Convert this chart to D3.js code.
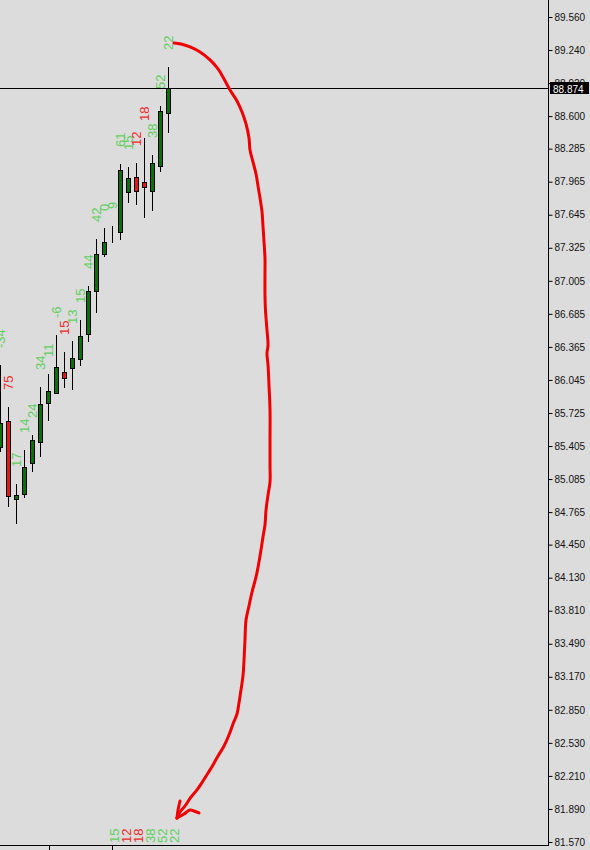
<!DOCTYPE html>
<html><head><meta charset="utf-8">
<script src="https://cdn.jsdelivr.net/npm/d3@7/dist/d3.min.js"></script>
<style>html,body{margin:0;padding:0;background:#dcdcdc;}svg{display:block}</style>
</head><body><svg id="c" width="590" height="850"></svg>
<script>
// ---- data ----
const opens  = [85.396,85.647,84.892,84.940,85.241,85.444,85.822,85.919,86.122,86.161,86.248,86.490,86.907,87.265,87.488,87.478,87.865,88.011,87.962,87.875,88.117,88.631];
const highs  = [86.190,85.783,85.037,85.367,85.512,85.977,86.103,86.480,86.316,86.422,86.626,86.955,87.410,87.517,87.536,88.137,88.108,88.146,88.388,88.224,88.698,89.076];
const lows   = [85.347,84.815,84.650,84.902,85.154,85.299,85.647,85.909,85.967,85.948,86.180,86.413,86.693,87.236,87.371,87.401,87.759,87.739,87.614,87.681,88.059,88.437];
const closes = [85.628,84.921,84.931,85.202,85.463,85.812,85.938,86.170,86.064,86.258,86.471,86.907,87.265,87.381,87.490,88.078,88.001,87.875,87.914,88.146,88.650,88.874];
const barLabels = ["-34","75","17","14","24","34","11","-6","15","13","15","44","42","0","9","61","15","12","18","38","52","22"];
const tickValues = [89.560,89.240,88.920,88.600,88.285,87.965,87.645,87.325,87.005,86.685,86.365,86.045,85.725,85.405,85.085,84.765,84.450,84.130,83.810,83.490,83.170,82.850,82.530,82.210,81.890,81.570];
const currentPrice = 88.874;
// hand-drawn arrow in (bar index, price) units
const arrowPath = [[21.69,89.308],[22.56,89.299],[23.69,89.270],[24.94,89.221],[26.19,89.144],[27.19,89.057],[27.94,88.960],[28.69,88.853],[29.56,88.747],[30.19,88.640],[30.69,88.524],[31.06,88.388],[31.19,88.272],[31.56,88.156],[31.94,88.040],[32.19,87.924],[32.44,87.807],[32.69,87.672],[32.81,87.536],[32.94,87.381],[33.06,87.226],[33.06,87.062],[33.06,86.868],[33.12,86.723],[33.31,86.529],[33.44,86.384],[33.31,86.300],[33.44,86.190],[33.56,85.996],[33.69,85.754],[33.69,85.463],[33.69,85.221],[33.69,85.057],[33.44,84.931],[33.19,84.785],[33.06,84.640],[32.81,84.524],[32.56,84.398],[32.31,84.282],[31.94,84.137],[31.44,83.991],[31.06,83.856],[30.69,83.720],[30.56,83.526],[30.44,83.333],[30.31,83.178],[30.06,83.042],[29.81,82.916],[29.56,82.810],[29.06,82.713],[28.56,82.606],[27.94,82.500],[27.19,82.403],[26.56,82.316],[25.94,82.238],[25.31,82.161],[24.56,82.074],[23.81,82.006],[23.06,81.919],[22.44,81.861],[22.06,81.802]];
const arrowHeadLeft = [[22.44,81.967],[22.19,81.880],[22.06,81.802]];
const arrowHeadRight = [[22.06,81.802],[22.94,81.841],[23.69,81.880],[24.19,81.870],[24.81,81.851]];

// ---- chart ----
const W = 590, H = 850, axisX = 548;
const GREEN_TXT = "#5fcf5f", RED_TXT = "#ee2a2a";
const svg = d3.select("#c");
svg.append("rect").attr("width", W).attr("height", H).attr("fill", "#dcdcdc");

const x = d3.scaleLinear().domain([0, 1]).range([0.5, 8.5]);
const y = d3.scaleLinear().domain([81.57, 89.56]).range([842, 17]);

const plot = svg.append("g");
const bars = opens.map((o, i) => ({i, o, h: highs[i], l: lows[i], c: closes[i], lab: barLabels[i], up: closes[i] >= o}));

// wicks
plot.selectAll("line.wick").data(bars).join("line")
  .attr("x1", d => x(d.i)).attr("x2", d => x(d.i))
  .attr("y1", d => Math.round(y(d.h))).attr("y2", d => Math.round(y(d.l)))
  .attr("stroke", "#000").attr("stroke-width", 1);

// bodies
plot.selectAll("rect.body").data(bars).join("rect")
  .attr("x", d => x(d.i) - 2)
  .attr("y", d => Math.round(Math.min(y(d.o), y(d.c))) + 0.5)
  .attr("width", 4)
  .attr("height", d => Math.max(0, Math.round(Math.abs(y(d.o) - y(d.c)))))
  .attr("fill", d => d.up ? "#0a700a" : "#e01a1a")
  .attr("stroke", "#000").attr("stroke-width", 1);

// labels above bars
plot.selectAll("text.lab").data(bars).join("text")
  .attr("transform", d => `translate(${x(d.i) + 4},${Math.round(y(d.h)) - 17}) rotate(-90)`)
  .attr("text-anchor", "start")
  .attr("font-family", "'Liberation Sans', Arial, sans-serif")
  .attr("font-size", 13)
  .attr("fill", d => d.up ? GREEN_TXT : RED_TXT)
  .text(d => d.lab);

// bottom label strip (last six)
const lastSix = bars.slice(-6);
svg.selectAll("text.bot").data(lastSix).join("text")
  .attr("transform", (d, k) => `translate(${119 + k * 12},843) rotate(-90)`)
  .attr("text-anchor", "start")
  .attr("font-family", "'Liberation Sans', Arial, sans-serif")
  .attr("font-size", 13)
  .attr("fill", d => d.up ? GREEN_TXT : RED_TXT)
  .text(d => d.lab);

// current price line
const yP = Math.round(y(currentPrice)) + 0.5;
svg.append("line").attr("x1", 0).attr("x2", axisX).attr("y1", yP).attr("y2", yP)
  .attr("stroke", "#000").attr("stroke-width", 1);

// hand-drawn red arrow
const line = d3.line().x(d => x(d[0])).y(d => y(d[1])).curve(d3.curveCatmullRom);
[arrowPath, arrowHeadLeft, arrowHeadRight].forEach(p => {
  svg.append("path").attr("d", line(p)).attr("fill", "none")
    .attr("stroke", "#f00000").attr("stroke-width", 3)
    .attr("stroke-linecap", "round").attr("stroke-linejoin", "round");
});

// right axis
const axisG = svg.append("g").attr("transform", `translate(${axisX + 0.5},0)`)
  .call(d3.axisRight(y).tickValues(tickValues).tickSize(4).tickPadding(2).tickFormat(d3.format(".3f")));
axisG.select(".domain").remove();
axisG.selectAll("line").attr("stroke", "#000");
axisG.selectAll("text").attr("font-family", "'Liberation Sans', Arial, sans-serif")
  .attr("font-size", 10).attr("fill", "#111");

// axis frame lines
svg.append("line").attr("x1", axisX + 0.5).attr("x2", axisX + 0.5).attr("y1", 0).attr("y2", 846)
  .attr("stroke", "#000");
svg.append("line").attr("x1", 0).attr("x2", axisX + 1).attr("y1", 845.5).attr("y2", 845.5)
  .attr("stroke", "#000");
// bottom time ticks
[49, 112].forEach(tx => {
  svg.append("line").attr("x1", tx + 0.5).attr("x2", tx + 0.5).attr("y1", 846).attr("y2", 850).attr("stroke", "#000");
});

// current price box
svg.append("rect").attr("x", axisX + 2).attr("y", yP - 6.5).attr("width", 39).attr("height", 12).attr("fill", "#000");
svg.append("text").attr("x", axisX + 5).attr("y", yP + 4)
  .attr("font-family", "'Liberation Sans', Arial, sans-serif").attr("font-size", 10)
  .attr("fill", "#fff").text(d3.format(".3f")(currentPrice));
</script></body></html>
